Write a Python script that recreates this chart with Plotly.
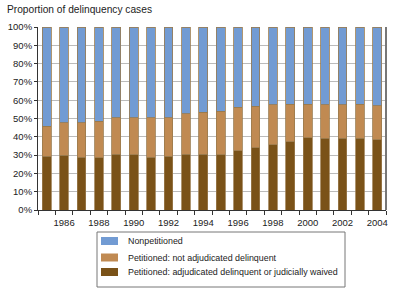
import plotly.graph_objects as go

years = list(range(1985, 2005))
# cumulative tops (percent)
adjudicated = [29.3, 29.9, 28.9, 28.6, 30.6, 30.2, 28.9, 29.3, 30.6, 30.4,
               30.2, 32.4, 33.9, 35.7, 37.4, 39.6, 39.1, 39.1, 39.1, 38.4]
petitioned_top = [45.8, 47.8, 47.8, 48.5, 50.4, 50.4, 50.4, 50.5, 52.7, 53.3,
                  54.0, 56.1, 56.8, 57.4, 57.9, 57.9, 57.4, 57.4, 57.9, 57.0]
not_adjudicated = [round(p - a, 1) for p, a in zip(petitioned_top, adjudicated)]
nonpetitioned = [round(100 - p, 1) for p in petitioned_top]

names = ["Petitioned: adjudicated delinquent or judicially waived",
         "Petitioned: not adjudicated delinquent",
         "Nonpetitioned"]
colors = ["#7A5218", "#C08A52", "#729BD3"]
series = [adjudicated, not_adjudicated, nonpetitioned]

W, H = 400, 291
L, R, T, B = 38, 14, 27, 81
PW, PH = W - L - R, H - T - B


def px(x):
    return (x - L) / PW


def py(y):
    return (H - B - y) / PH


fig = go.Figure()
for n, c, v in zip(names, colors, series):
    fig.add_trace(go.Bar(x=years, y=v, name=n, marker_color=c,
                         marker_line=dict(color="#9A7A4E", width=0.8),
                         width=0.5, showlegend=False))

font = "Liberation Sans, Arial, sans-serif"
annotations = [dict(text="Proportion of delinquency cases", xref="paper", yref="paper",
                    x=px(5), y=py(17), xanchor="left", yanchor="bottom", showarrow=False,
                    font=dict(size=10.2, family=font, color="#222"))]
shapes = [
    # right axis line
    dict(type="line", xref="paper", yref="paper", x0=1, x1=1, y0=0, y1=1,
         line=dict(color="#777", width=2)),
    # legend box
    dict(type="rect", xref="paper", yref="paper", x0=px(97), x1=px(345), y0=py(232), y1=py(287),
         line=dict(color="#777", width=1), fillcolor="white"),
]
row_y = [272, 257.5, 241]  # legend rows (bottom to top follows trace order)
for n, c, ry in zip(names, colors, row_y):
    shapes.append(dict(type="rect", xref="paper", yref="paper", x0=px(101), x1=px(118),
                       y0=py(ry + 4), y1=py(ry - 4), line=dict(width=0), fillcolor=c))
    annotations.append(dict(text=n, xref="paper", yref="paper", x=px(126), y=py(ry),
                            xanchor="left", yanchor="middle", showarrow=False,
                            font=dict(size=8.9, family=font, color="#222")))

fig.update_layout(
    barmode="stack",
    width=W, height=H,
    margin=dict(l=L, r=R, t=T, b=B, autoexpand=False),
    paper_bgcolor="white", plot_bgcolor="white",
    font=dict(family=font, size=9.5, color="#222"),
    showlegend=False,
    annotations=annotations,
    shapes=shapes,
)
fig.update_xaxes(range=[1984.5, 2004.5], tickvals=list(range(1986, 2005, 2)),
                 ticks="", showgrid=False, showline=True, linecolor="#333", linewidth=1,
                 mirror=False, ticklabelstandoff=4,
                 minor=dict(tickvals=[y + 0.5 for y in range(1984, 2005)], ticks="outside",
                            ticklen=4, tickcolor="#333", showgrid=False))
fig.update_yaxes(range=[0, 100], dtick=10, ticksuffix="%", showgrid=True,
                 gridcolor="#BBBBBB", gridwidth=1, showline=True, linecolor="#333",
                 linewidth=1, ticks="outside", ticklen=3, tickcolor="#333", zeroline=False)

fig.write_html("out.html")
